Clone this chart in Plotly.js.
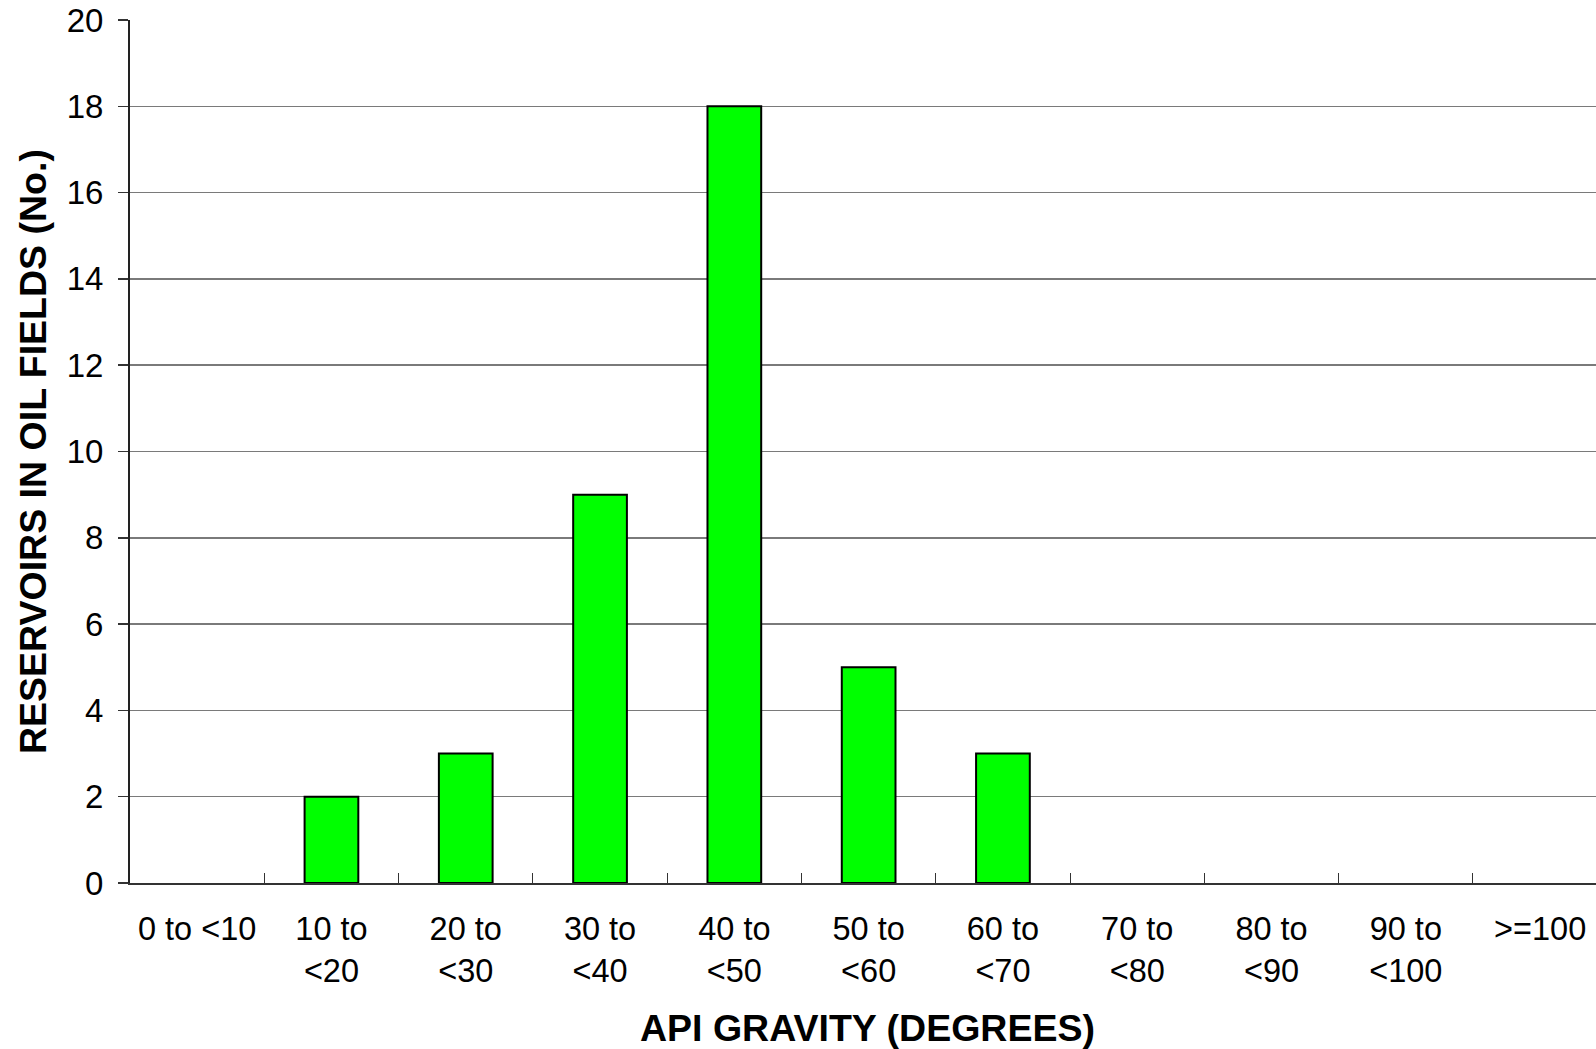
<!DOCTYPE html>
<html>
<head>
<meta charset="utf-8">
<script src="https://cdn.plot.ly/plotly-3.0.1.min.js"></script>
<style>
html, body { margin: 0; padding: 0; background: #fff; overflow: hidden; }
#chart { width: 1596px; height: 1049px; }
</style>
</head>
<body>
<div id="chart"></div>
<script>
const categories = ["0 to <10", "10 to<br><20", "20 to<br><30", "30 to<br><40", "40 to<br><50",
  "50 to<br><60", "60 to<br><70", "70 to<br><80", "80 to<br><90", "90 to<br><100", ">=100"];
const reservoirs = [0, 2, 3, 9, 18, 5, 3, 0, 0, 0, 0];
const yTicks = [0, 2, 4, 6, 8, 10, 12, 14, 16, 18, 20];
const xTitle = "API GRAVITY (DEGREES)";
const yTitle = "RESERVOIRS IN OIL FIELDS (No.)";

const FONT = "'Liberation Sans', Arial, sans-serif";

const trace = {
  type: "bar",
  x: categories,
  y: reservoirs,
  marker: {
    color: "#00ff00",
    line: { color: "#000000", width: reservoirs.map(v => (v > 0 ? 2 : 0)) }
  },
  hoverinfo: "x+y"
};

const layout = {
  width: 1596,
  height: 1049,
  margin: { l: 130, r: 0, t: 20, b: 166 },
  paper_bgcolor: "#ffffff",
  plot_bgcolor: "#ffffff",
  showlegend: false,
  bargap: 0.6,
  font: { family: FONT, color: "#000000" },
  xaxis: {
    type: "category",
    range: [-0.5, 10.416],
    tickson: "boundaries",
    ticks: "inside",
    ticklen: 10,
    tickwidth: 1,
    tickcolor: "#333333",
    showline: true,
    linecolor: "#333333",
    linewidth: 2,
    showgrid: false,
    zeroline: false,
    tickfont: { family: FONT, size: 32.5, color: "#000000" },
    ticklabelstandoff: 16,
    automargin: false
  },
  yaxis: {
    range: [0, 20],
    tickvals: yTicks,
    ticktext: yTicks.map(String),
    ticks: "outside",
    ticklen: 10,
    tickwidth: 1.5,
    tickcolor: "#333333",
    showline: true,
    linecolor: "#222222",
    linewidth: 2,
    showgrid: true,
    gridcolor: "#7a7a7a",
    gridwidth: 1.5,
    zeroline: false,
    tickfont: { family: FONT, size: 33, color: "#000000" },
    ticklabelstandoff: 8,
    automargin: false
  },
  annotations: [
    {
      text: "<b>" + xTitle + "</b>",
      xref: "paper", yref: "paper",
      x: 0.503, y: -0.168,
      xanchor: "center", yanchor: "middle",
      showarrow: false,
      font: { family: FONT, size: 37.5, color: "#000000" }
    },
    {
      text: "<b>" + yTitle + "</b>",
      xref: "paper", yref: "paper",
      x: -0.0665, y: 0.5,
      xanchor: "center", yanchor: "middle",
      textangle: -90,
      showarrow: false,
      font: { family: FONT, size: 37.5, color: "#000000" }
    }
  ]
};

Plotly.newPlot("chart", [trace], layout, { displayModeBar: false, staticPlot: true });
</script>
</body>
</html>
